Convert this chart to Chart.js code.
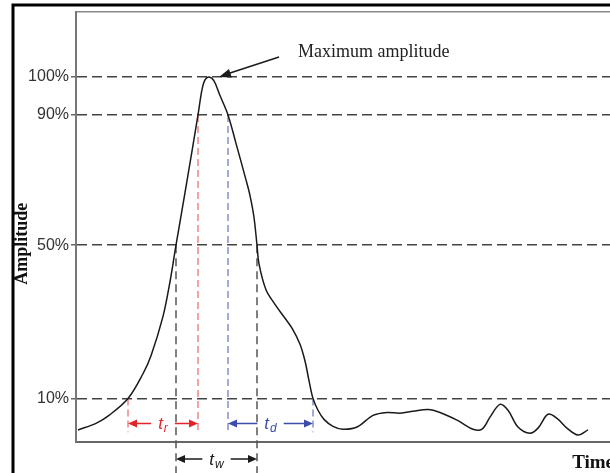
<!DOCTYPE html>
<html>
<head>
<meta charset="utf-8">
<script src="https://cdn.jsdelivr.net/npm/chart.js@4"></script>
<style>
  html, body { margin: 0; padding: 0; background: #fff; overflow: hidden; }
  #wrap { position: relative; width: 630px; height: 473px; }
</style>
</head>
<body>
<div id="wrap"><canvas id="pulse"></canvas></div>
<script>
// pulse trace, time in arbitrary units, amplitude in % of the drawn scale
const timeData = [2, 20, 33, 52, 67, 75, 87, 94, 100, 111, 122, 126, 129, 133, 138, 144, 152, 160, 170, 174,
    178, 181, 183, 190, 199, 209, 216, 224, 229, 233, 237, 242, 248, 257, 267, 281, 297, 311, 324, 337,
    352, 364, 381, 397, 406, 414, 424, 432, 442, 454, 462, 472, 481, 491, 502, 512];
const amplitudeData = [3.3, 5.1, 7.3, 11.9, 18.7, 23.6, 34.4, 43.9, 53.9, 71.5, 89.6, 96.5, 99.2, 100, 98.9, 94.9, 89.6, 81.8, 71.8, 67.5,
    61.5, 53.9, 48.8, 41.7, 37.7, 33.9, 31.2, 26.8, 22.2, 16.8, 11.9, 8.7, 6.2, 4.3, 3.5, 4.1, 7.3, 8.1, 7.9, 8.4,
    8.9, 8.1, 6.0, 3.5, 3.5, 6.8, 10.3, 8.7, 4.1, 2.4, 3.8, 7.6, 6.5, 3.8, 1.9, 3.3];

// reference levels on the amplitude axis
const levelValues = [11.9, 53.9, 89.6, 100];
const levelLabels = ["10%", "50%", "90%", "100%"];

// crossing times
const riseTimes = [52, 122];    // 10% -> 90% on leading edge
const decayTimes = [152, 237];  // 90% -> 10% on trailing edge
const widthTimes = [100, 181];  // 50% crossings
const peakTime = 133;

const arrowLevel = 2.7;   // lower end of t_r / t_d guides
const widthLevel = -9;    // lower end of t_w guides

const RED = "#e3242b";
const BLUE = "#3d4cab";

function guide(t, top, bottom, color, dash, width) {
    return {
        data: [{ x: t, y: top }, { x: t, y: bottom }],
        borderColor: color,
        borderWidth: width,
        borderDash: dash,
        pointRadius: 0,
        tension: 0,
        clip: false
    };
}

function arrowHead(ctx, tx, ty, fx, fy, len, half) {
    const a = Math.atan2(ty - fy, tx - fx);
    ctx.beginPath();
    ctx.moveTo(tx, ty);
    ctx.lineTo(tx - len * Math.cos(a) + half * Math.sin(a), ty - len * Math.sin(a) - half * Math.cos(a));
    ctx.lineTo(tx - len * Math.cos(a) - half * Math.sin(a), ty - len * Math.sin(a) + half * Math.cos(a));
    ctx.closePath();
    ctx.fill();
}

function spanArrow(ctx, x1, x2, yp, color, sub) {
    const mainFont = 'italic 17px "Liberation Sans", Arial, sans-serif';
    const subFont = 'italic 12px "Liberation Sans", Arial, sans-serif';
    ctx.font = mainFont;
    const w1 = ctx.measureText("t").width;
    ctx.font = subFont;
    const w2 = ctx.measureText(sub).width;
    const total = w1 + w2 + 1;
    const mid = (x1 + x2) / 2;
    const left = mid - total / 2;
    const gap = 7;
    ctx.strokeStyle = color;
    ctx.fillStyle = color;
    ctx.lineWidth = 1.5;
    ctx.setLineDash([]);
    ctx.beginPath();
    ctx.moveTo(x1 + 4, yp);
    ctx.lineTo(left - gap, yp);
    ctx.moveTo(left + total + gap, yp);
    ctx.lineTo(x2 - 4, yp);
    ctx.stroke();
    arrowHead(ctx, x1, yp, x1 + 10, yp, 9, 4);
    arrowHead(ctx, x2, yp, x2 - 10, yp, 9, 4);
    ctx.textAlign = "left";
    ctx.textBaseline = "alphabetic";
    ctx.font = mainFont;
    ctx.fillText("t", left, yp + 6);
    ctx.font = subFont;
    ctx.fillText(sub, left + w1 + 1, yp + 9);
}

const pulseMarkers = {
    id: "pulseMarkers",
    afterDraw(chart) {
        const { ctx, chartArea, scales: { x, y } } = chart;
        ctx.save();

        // outer figure frame
        ctx.strokeStyle = "#000";
        ctx.lineWidth = 3;
        ctx.beginPath();
        ctx.moveTo(13, chart.height + 2);
        ctx.lineTo(13, 5);
        ctx.lineTo(chart.width + 2, 5);
        ctx.stroke();

        // measurement arrows
        const yr = y.getPixelForValue(5.1);
        spanArrow(ctx, x.getPixelForValue(riseTimes[0]), x.getPixelForValue(riseTimes[1]), yr, RED, "r");
        spanArrow(ctx, x.getPixelForValue(decayTimes[0]), x.getPixelForValue(decayTimes[1]), yr, BLUE, "d");
        spanArrow(ctx, x.getPixelForValue(widthTimes[0]), x.getPixelForValue(widthTimes[1]),
            chartArea.bottom + 17, "#1a1a1a", "w");

        // maximum amplitude callout
        const px = x.getPixelForValue(peakTime) + 10;
        const py = y.getPixelForValue(100);
        ctx.strokeStyle = "#1a1a1a";
        ctx.fillStyle = "#1a1a1a";
        ctx.lineWidth = 1.5;
        ctx.beginPath();
        ctx.moveTo(px + 60, py - 20);
        ctx.lineTo(px + 8, py - 3);
        ctx.stroke();
        arrowHead(ctx, px, py, px + 60, py - 20, 12, 4.5);
        ctx.font = '18px "Liberation Serif", "Times New Roman", serif';
        ctx.textAlign = "left";
        ctx.textBaseline = "middle";
        ctx.fillStyle = "#222";
        ctx.fillText("Maximum amplitude", px + 79, py - 25);

        // vertical axis title
        ctx.translate(22, (chartArea.top + chartArea.bottom) / 2 + 17);
        ctx.rotate(-Math.PI / 2);
        ctx.font = 'bold 18px "Liberation Serif", "Times New Roman", serif';
        ctx.textAlign = "center";
        ctx.fillStyle = "#111";
        ctx.fillText("Amplitude", 0, 0);
        ctx.restore();
    }
};

new Chart(document.getElementById("pulse"), {
    type: "line",
    data: {
        datasets: [
            {
                data: timeData.map((t, i) => ({ x: t, y: amplitudeData[i] })),
                borderColor: "#1a1a1a",
                borderWidth: 1.5,
                pointRadius: 0,
                tension: 0.35
            },
            guide(riseTimes[0], levelValues[0], arrowLevel, "#e46a6a", [7, 4], 1.2),
            guide(riseTimes[1], levelValues[2], arrowLevel, "#e46a6a", [7, 4], 1.2),
            guide(decayTimes[0], levelValues[2], arrowLevel, "#6676c0", [7, 4], 1.2),
            guide(decayTimes[1], levelValues[0], arrowLevel, "#6676c0", [7, 4], 1.2),
            guide(widthTimes[0], levelValues[1], widthLevel, "#555", [8, 5], 1.5),
            guide(widthTimes[1], levelValues[1], widthLevel, "#555", [8, 5], 1.5)
        ]
    },
    options: {
        responsive: true,
        maintainAspectRatio: false,
        animation: false,
        layout: { padding: { left: 0, top: 7, right: 16, bottom: 0 } },
        plugins: { legend: { display: false }, tooltip: { enabled: false } },
        scales: {
            x: {
                type: "linear",
                min: 0,
                max: 538,
                grid: { display: false },
                ticks: { display: false },
                border: { display: true, color: "#666", width: 2 },
                title: {
                    display: true,
                    text: "Time",
                    align: "end",
                    color: "#111",
                    padding: 0,
                    font: { family: '"Liberation Serif", "Times New Roman", serif', size: 19, weight: "bold", lineHeight: 1 }
                },
                afterFit: (scale) => { scale.height = 31; }
            },
            xTop: {
                type: "linear",
                position: "top",
                min: 0,
                max: 538,
                grid: { display: false },
                ticks: { display: false },
                border: { display: true, color: "#888", width: 1.5 },
                afterFit: (scale) => { scale.height = 0; }
            },
            y: {
                type: "linear",
                min: 0,
                max: 117.9,
                afterBuildTicks: (scale) => { scale.ticks = levelValues.map(v => ({ value: v })); },
                afterFit: (scale) => { scale.width = 76; },
                ticks: {
                    autoSkip: false,
                    padding: 2,
                    color: "#333",
                    font: { family: '"Liberation Sans", Arial, sans-serif', size: 16 },
                    callback: (v, i) => levelLabels[i]
                },
                grid: {
                    color: "#444",
                    lineWidth: 1.5,
                    tickLength: 5,
                    tickColor: "#666",
                    tickWidth: 1.5
                },
                border: { display: true, color: "#777", width: 2, dash: [10, 5] }
            }
        }
    },
    plugins: [pulseMarkers]
});
</script>
</body>
</html>
